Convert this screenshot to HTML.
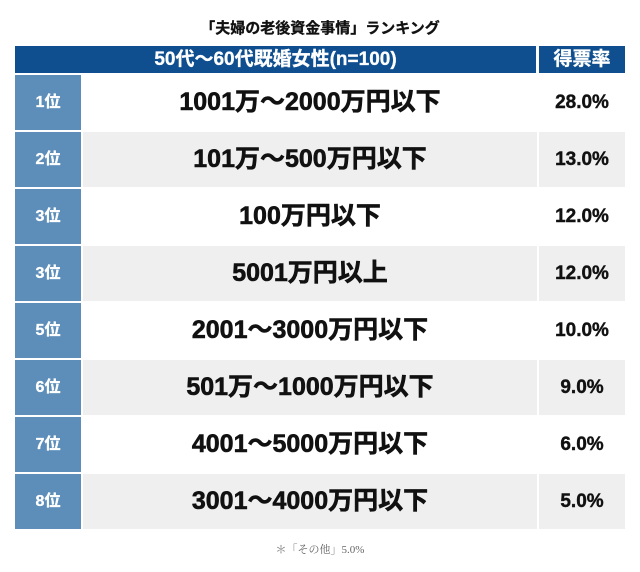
<!DOCTYPE html>
<html><head><meta charset="utf-8"><style>
body{margin:0;width:640px;height:572px;background:#fff;font-family:"Liberation Sans","Noto Sans CJK JP",sans-serif;position:relative;overflow:hidden}
.t{position:absolute;top:17px;left:0;width:640px;text-align:center;font-size:15px;font-weight:bold;color:#111;-webkit-text-stroke:0.3px #111}
.h{position:absolute;top:46px;height:27px;background:#0f4f8f;color:#fff;font-weight:bold;font-size:19px;line-height:27px;text-align:center;-webkit-text-stroke:0.3px #fff}
.r{position:absolute;left:15px;width:610px;height:55px}
.rk{position:absolute;left:0;top:0;width:66px;height:55px;background:#5d8eb9;color:#fff;font-weight:bold;font-size:16px;line-height:55px;text-align:center;-webkit-text-stroke:0.3px #fff}
.v{position:absolute;left:68px;top:0;width:454px;height:55px;line-height:55px;text-align:center;font-weight:bold;font-size:25px;color:#111;-webkit-text-stroke:0.6px #111}
.p{position:absolute;left:524px;top:0;width:86px;height:55px;line-height:55px;text-align:center;font-weight:bold;font-size:19px;color:#111;-webkit-text-stroke:0.4px #111}
.g .v,.g .p{background:#efefef}
.f{position:absolute;top:541px;left:0;width:640px;text-align:center;font-size:11px;color:#666;font-family:"Liberation Serif","Noto Serif CJK SC",serif}
</style></head><body>
<div class="t">「夫婦の老後資金事情」ランキング</div>
<div class="h" style="left:15px;width:521px">50代〜60代既婚女性(n=100)</div>
<div class="h" style="left:539px;width:86px">得票率</div>
<div class="r" style="top:75px"><div class="rk">1位</div><div class="v">1001万〜2000万円以下</div><div class="p">28.0%</div></div>
<div class="r g" style="top:132px"><div class="rk">2位</div><div class="v">101万〜500万円以下</div><div class="p">13.0%</div></div>
<div class="r" style="top:189px"><div class="rk">3位</div><div class="v">100万円以下</div><div class="p">12.0%</div></div>
<div class="r g" style="top:246px"><div class="rk">3位</div><div class="v">5001万円以上</div><div class="p">12.0%</div></div>
<div class="r" style="top:303px"><div class="rk">5位</div><div class="v">2001〜3000万円以下</div><div class="p">10.0%</div></div>
<div class="r g" style="top:360px"><div class="rk">6位</div><div class="v">501万〜1000万円以下</div><div class="p">9.0%</div></div>
<div class="r" style="top:417px"><div class="rk">7位</div><div class="v">4001〜5000万円以下</div><div class="p">6.0%</div></div>
<div class="r g" style="top:474px"><div class="rk">8位</div><div class="v">3001〜4000万円以下</div><div class="p">5.0%</div></div>
<div class="f">＊「その他」5.0%</div>
</body></html>
